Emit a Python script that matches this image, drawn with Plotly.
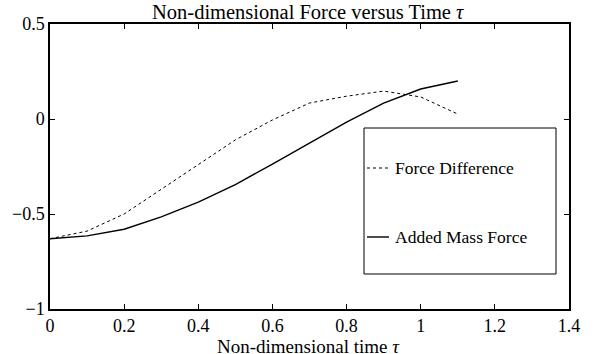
import plotly.graph_objects as go

tau = [0.0, 0.1, 0.2, 0.3, 0.4, 0.5, 0.6, 0.7, 0.8, 0.9, 1.0, 1.1]
force_difference = [-0.63, -0.59, -0.50, -0.37, -0.24, -0.11, -0.005, 0.084, 0.12, 0.147, 0.116, 0.026]
added_mass_force = [-0.63, -0.615, -0.58, -0.515, -0.437, -0.345, -0.237, -0.126, -0.016, 0.084, 0.158, 0.2]
x_ticks = [0, 0.2, 0.4, 0.6, 0.8, 1.0, 1.2, 1.4]
x_tick_text = ["0", "0.2", "0.4", "0.6", "0.8", "1", "1.2", "1.4"]
y_ticks = [-1, -0.5, 0, 0.5]
y_tick_text = ["\u22121", "\u22120.5", "0", "0.5"]

FONT = "Liberation Serif, Times New Roman, serif"

fig = go.Figure()
fig.add_trace(go.Scatter(x=tau, y=force_difference, mode="lines", name="Force Difference",
                         line=dict(color="black", width=1, dash="3px,3px")))
fig.add_trace(go.Scatter(x=tau, y=added_mass_force, mode="lines", name="Added Mass Force",
                         line=dict(color="black", width=1.4)))

W, H = 603, 354
L, R, T, B = 50, 34, 24, 45
pw, ph = W - L - R, H - T - B

def px(xp):  # page pixel x -> paper fraction
    return (xp - L) / pw

def py(yp):  # page pixel y -> paper fraction
    return 1 - (yp - T) / ph

# manual legend box like MATLAB
fig.add_shape(type="rect", xref="paper", yref="paper",
              x0=px(364), x1=px(556), y0=py(274), y1=py(128),
              line=dict(color="black", width=1), fillcolor="white", layer="above")
fig.add_shape(type="line", xref="paper", yref="paper",
              x0=px(367), x1=px(389), y0=py(168), y1=py(168),
              line=dict(color="black", width=1, dash="3px,3px"), layer="above")
fig.add_shape(type="line", xref="paper", yref="paper",
              x0=px(367), x1=px(389), y0=py(237), y1=py(237),
              line=dict(color="black", width=1.4), layer="above")
for label, yy in [("Force Difference", 168), ("Added Mass Force", 237)]:
    fig.add_annotation(text=label, xref="paper", yref="paper", x=px(393), y=py(yy),
                       xanchor="left", yanchor="middle", showarrow=False,
                       font=dict(family=FONT, size=17.5, color="black"))

fig.add_annotation(text="Non-dimensional Force versus Time <i>\u03c4</i>", xref="paper", yref="paper",
                   x=px(308), y=py(12), xanchor="center", yanchor="middle", showarrow=False,
                   font=dict(family=FONT, size=20.5, color="black"))
fig.add_annotation(text="Non-dimensional time <i>\u03c4</i>", xref="paper", yref="paper",
                   x=px(308), y=py(346), xanchor="center", yanchor="middle", showarrow=False,
                   font=dict(family=FONT, size=19, color="black"))

axis_common = dict(showline=True, linecolor="black", linewidth=1.5, mirror="ticks",
                   ticks="inside", ticklen=5, tickcolor="black", tickwidth=1,
                   showgrid=False, zeroline=False, automargin=False,
                   tickfont=dict(family=FONT, size=18, color="black"))
fig.update_xaxes(range=[0, 1.4], tickvals=x_ticks, ticktext=x_tick_text, **axis_common)
fig.update_yaxes(range=[-1, 0.5], tickvals=y_ticks, ticktext=y_tick_text, **axis_common)

fig.update_layout(width=W, height=H, margin=dict(l=L, r=R, t=T, b=B, autoexpand=False),
                  plot_bgcolor="white", paper_bgcolor="white", showlegend=False,
                  font=dict(family=FONT, color="black"))

fig.write_html("out.html", config={"displayModeBar": False},
               post_script="document.body.style.margin='0';document.body.style.padding='0';")
